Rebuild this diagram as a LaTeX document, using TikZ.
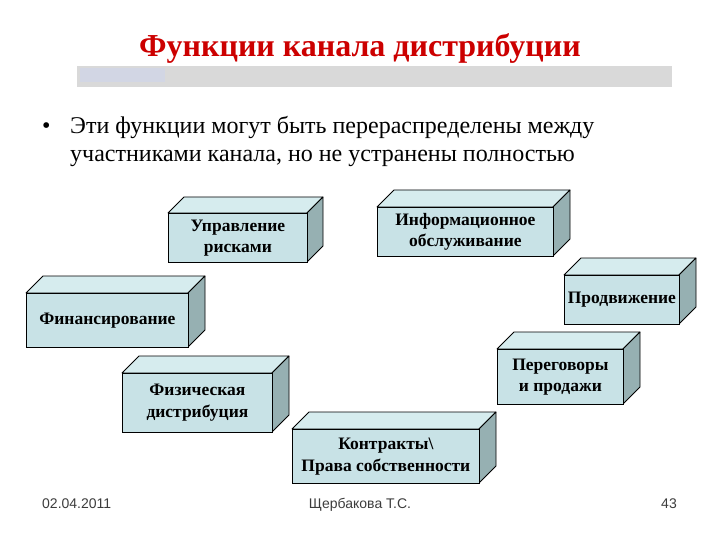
\documentclass[tikz,border=0pt]{standalone}
\usepackage{fontspec}
\setmainfont{Liberation Serif}
\newfontfamily\footfont{Liberation Sans}
\definecolor{titlered}{RGB}{204,0,0}
\definecolor{barcol}{RGB}{217,217,217}
\definecolor{barblue}{RGB}{210,214,228}
\definecolor{frontcol}{RGB}{200,226,230}
\definecolor{topcol}{RGB}{214,236,238}
\definecolor{sidecol}{RGB}{150,176,178}
\definecolor{footcol}{RGB}{60,60,60}
\tikzset{
  face/.style={draw=black, line width=0.8pt, fill=frontcol, inner sep=0pt, align=center,
    font=\fontsize{17.5}{21.5}\selectfont\bfseries},
  topface/.style={draw=black, line width=0.8pt, fill=topcol, line join=round},
  sideface/.style={draw=black, line width=0.8pt, fill=sidecol, line join=round},
  foot/.style={font=\footfont\fontsize{14}{16}\selectfont, text=footcol, inner sep=0pt},
  btxt/.style={font=\fontsize{24}{28}\selectfont, inner sep=0pt, anchor=base west}
}
\newcommand\cubebox[7]{%
  \filldraw[topface] (#2,#3) -- ++(#6,-#6) -- ++({#4-#2},0) -- (#4,#3) -- cycle;
  \filldraw[sideface] (#4,#3) -- ++(#6,-#6) -- ++(0,{#5-#3}) -- (#4,#5) -- cycle;
  \node[face, anchor=north west, minimum width={(#4-#2)*1pt}, minimum height={(#5-#3)*1pt}] (#1) at (#2,#3) {#7};
}
\begin{document}
\begin{tikzpicture}[x=1pt,y=-1pt]
\useasboundingbox (0,0) rectangle (720,540);
% title
\node[text=titlered, font=\fontsize{32}{36}\selectfont\bfseries, inner sep=0pt] (title) at (360,49) {Функции канала дистрибуции};
\fill[barcol] (77,66) rectangle (672,87);
\fill[barblue] (80,68) rectangle (165,82);
% bullet
\node[btxt] (bul) at (42,134) {•};
\node[btxt] (bl1) at (70,134) {Эти функции могут быть перераспределены между};
\node[btxt] (bl2) at (70,162) {участниками канала, но не устранены полностью};
% boxes
\cubebox{risk}{168}{213}{307}{262}{16}{Управление\\рисками}
\cubebox{info}{377}{207}{553}{256}{17}{Информационное\\обслуживание}
\cubebox{prom}{564}{275}{679}{324}{17}{Продвижение}
\cubebox{fin}{26}{293}{188}{347}{17}{Финансирование}
\cubebox{neg}{497}{349}{623}{404}{17}{Переговоры\\и продажи}
\cubebox{phys}{122}{373}{272}{432}{17}{Физическая\\дистрибуция}
\cubebox{contr}{292}{429}{479}{483}{17}{Контракты\textbackslash\\Права собственности}
% footer
\node[foot, anchor=base west] (date) at (42,508) {02.04.2011};
\node[foot, anchor=base] (auth) at (360,508) {Щербакова Т.С.};
\node[foot, anchor=base east] (page) at (677,508) {43};
\end{tikzpicture}
\end{document}
